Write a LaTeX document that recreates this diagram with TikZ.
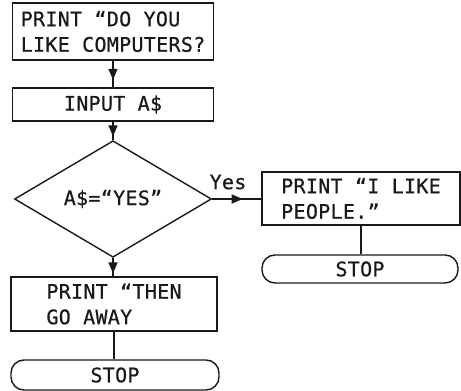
\documentclass[tikz,border=0pt]{standalone}
\usepackage{fontspec}
\newfontfamily\flowfont[LetterSpace=1.5, FakeBold=0.6]{DejaVu Sans Mono}
\usetikzlibrary{arrows.meta,decorations.markings,shapes.geometric}
\begin{document}
\begin{tikzpicture}[x=1pt,y=-1pt,
  every node/.style={font=\flowfont\fontsize{20}{25.5}\selectfont, text=black!90},
  stepbox/.style={draw=black!90, line width=1.4pt, minimum width=#1, inner sep=0pt, align=left},
  termbox/.style={draw=black!90, line width=1.4pt, rounded corners=13pt, minimum width=#1, inner sep=0pt},
  testbox/.style={draw=black!90, line width=1.4pt, diamond, minimum width=197pt, minimum height=99pt, inner sep=0pt},
  link/.style={draw=black!90, line width=1.4pt},
  midarrow/.style={link, postaction={decorate}, decoration={markings,
     mark=at position #1 with {\arrow{Triangle[length=11pt,width=9pt]}}}}
]
\useasboundingbox (0,0) rectangle (461,391);

% program steps
\node[stepbox=201pt, minimum height=57pt] (print1) at (113,31.5)
  {PRINT “DO YOU\\LIKE COMPUTERS?};
\node[stepbox=201pt, minimum height=33pt] (input) at (113,104.5) {INPUT A\$};
\node[testbox] (test) at (113,199) {A\$=“YES”};
\node[stepbox=198pt, minimum height=53pt] (print2) at (361,198.5)
  {PRINT “I LIKE\\PEOPLE.”};
\node[termbox=196pt, minimum height=28pt] (stop2) at (360,269) {STOP};
\node[stepbox=206pt, minimum height=54pt] (print3) at (114,304)
  {PRINT “THEN\\GO AWAY};
\node[termbox=208pt, minimum height=30pt] (stop1) at (115,375) {STOP};

% connectors
\draw[midarrow=0.72] (print1.south) -- (input.north);
\draw[midarrow=0.8] (input.south) -- (test.north);
\draw[midarrow=0.62] (test.east) -- (test.east -| print2.west);
\draw[link] (print2.south) -- (print2.south |- stop2.north);
\draw[midarrow=0.84] (test.south) -- (test.south |- print3.north);
\draw[link] (print3.south) -- (print3.south |- stop1.north);

\node (yes) at (228,182) {Yes};
\end{tikzpicture}
\end{document}
